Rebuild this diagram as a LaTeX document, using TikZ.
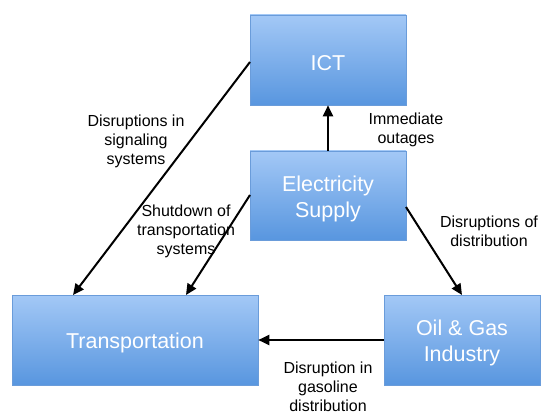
\documentclass[tikz,border=0pt]{standalone}
\usepackage{fontspec}
\setmainfont{Liberation Sans}
\usetikzlibrary{arrows.meta}
\definecolor{boxtop}{HTML}{A3C8F6}
\definecolor{boxbot}{HTML}{5896DF}
\definecolor{boxline}{HTML}{6A9CDA}
\tikzset{
  sector/.style={draw=boxline, line width=0.6pt, top color=boxtop, bottom color=boxbot,
    text=white, font=\fontsize{21.5}{26}\selectfont, align=center, inner sep=0pt},
  sectortext/.style={text=white, font=\fontsize{21.5}{26}\selectfont, align=center, inner sep=0pt},
  impact/.style={line width=2pt, -{Triangle[length=11pt,width=10pt]}},
  lbl/.style={font=\fontsize{16}{19}\selectfont, align=center, inner sep=1pt}
}
\begin{document}
\begin{tikzpicture}[x=1pt,y=-1pt]
\useasboundingbox (0,0) rectangle (542,412);
% sectors
\node[sector, minimum width=156pt, minimum height=90pt] (ict) at (328,60) {};
\node[sector, minimum width=156pt, minimum height=89pt] (elec) at (328,195.5) {};
\node[sector, minimum width=246pt, minimum height=90pt] (trans) at (135,340) {};
\node[sector, minimum width=156pt, minimum height=90pt] (oil) at (462,340) {};
% sector names, set slightly below the box centres
\node[sectortext] (ictT) at (328,63) {ICT};
\node[sectortext] (elecT) at (328,198.5) {Electricity\\Supply};
\node[sectortext] (transT) at (135,343) {Transportation};
\node[sectortext] (oilT) at (462,343) {Oil \& Gas\\Industry};
% end points on the box borders
\coordinate (ictL) at (250,62);
\coordinate (transA) at (73,295);
\coordinate (elecL) at (250,195);
\coordinate (transB) at (186,295);
\coordinate (elecR) at (406,207);
\coordinate (oilTop) at (462,295);
% dependencies
\draw[impact] (ictL) -- (transA);
\draw[impact] (elecL) -- (transB);
\draw[impact] (elec.north) -- (ict.south);
\draw[impact] (elecR) -- (oilTop);
\draw[impact] (oil.west) -- (trans.east);
% labels
\node[lbl] (l1) at (136,141) {Disruptions in\\signaling\\systems};
\node[lbl] (l2) at (406,129.5) {Immediate\\outages};
\node[lbl] (l3) at (186,231) {Shutdown of\\transportation\\systems};
\node[lbl] (l4) at (489,231) {Disruptions of\\distribution};
\node[lbl] (l5) at (328,387) {Disruption in\\gasoline\\distribution};
\end{tikzpicture}
\end{document}
